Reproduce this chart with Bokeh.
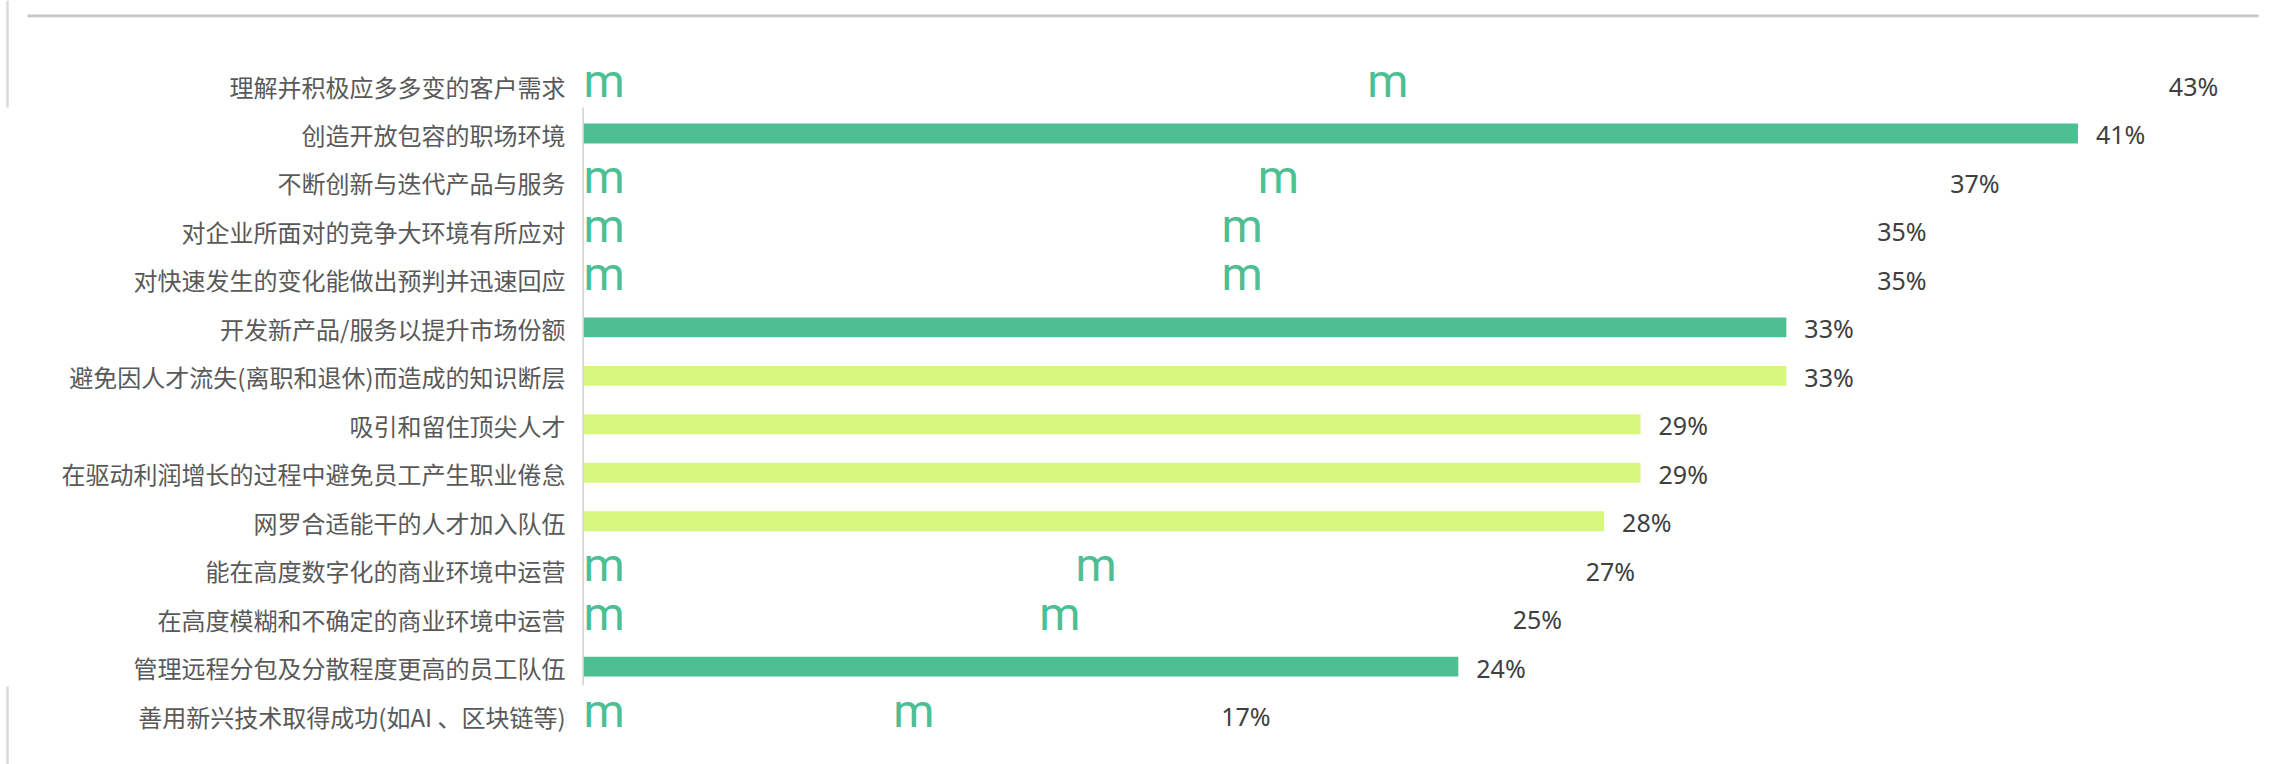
from bokeh.plotting import figure
from bokeh.models import ColumnDataSource, Range1d
from bokeh.core.properties import value
from bokeh.embed import file_html
from bokeh.resources import INLINE

# ---------------- data ----------------
categories = [
    "理解并积极应多多变的客户需求",
    "创造开放包容的职场环境",
    "不断创新与迭代产品与服务",
    "对企业所面对的竞争大环境有所应对",
    "对快速发生的变化能做出预判并迅速回应",
    "开发新产品/服务以提升市场份额",
    "避免因人才流失(离职和退休)而造成的知识断层",
    "吸引和留住顶尖人才",
    "在驱动利润增长的过程中避免员工产生职业倦怠",
    "网罗合适能干的人才加入队伍",
    "能在高度数字化的商业环境中运营",
    "在高度模糊和不确定的商业环境中运营",
    "管理远程分包及分散程度更高的员工队伍",
    "善用新兴技术取得成功(如AI 、区块链等)",
]
values = [43, 41, 37, 35, 35, 33, 33, 29, 29, 28, 27, 25, 24, 17]
groups = ["icon", "dark", "icon", "icon", "icon", "dark", "light",
          "light", "light", "light", "icon", "icon", "dark", "icon"]
labels = [f"{v}%" for v in values]

# ---------------- layout / style ----------------
DARK = "#4dbf93"
LIGHT = "#d8f77f"
n = len(categories)
ypos = [n - 1 - i for i in range(n)]

W, H = 2284, 764
ZERO_X = 583            # page x of value 0
PX_PER = 36.45          # pixels per percent
ROW_STEP = 48.47        # pixels per row
ROW0 = 84.5             # page y of first row centre

x_start = -ZERO_X / PX_PER
x_end = x_start + W / PX_PER
y_top = (n - 1) + ROW0 / ROW_STEP
y_bot = y_top - H / ROW_STEP


def px_x(px):
    return x_start + px / PX_PER


def px_y(py):
    return y_top - py / ROW_STEP


p = figure(width=W, height=H, output_backend="svg", toolbar_location=None,
           x_range=Range1d(x_start, x_end), y_range=Range1d(y_bot, y_top),
           x_axis_location=None, y_axis_location=None,
           min_border_left=0, min_border_right=0,
           min_border_top=0, min_border_bottom=0)
p.outline_line_color = None
p.grid.visible = False
p.background_fill_color = "white"
p.border_fill_color = "white"

# category labels
cat_src = ColumnDataSource(dict(x=[0] * n, y=ypos, t=categories))
p.text(x="x", y="y", text="t", source=cat_src, text_color="#595959",
       text_font=value("Noto Sans CJK SC"), text_font_size="24px",
       text_align="right", text_baseline="middle", x_offset=-18, y_offset=1)

# bars
bar_idx = [i for i, g in enumerate(groups) if g != "icon"]
bars = ColumnDataSource(dict(
    y=[ypos[i] for i in bar_idx],
    v=[values[i] for i in bar_idx],
    c=[DARK if groups[i] == "dark" else LIGHT for i in bar_idx],
))
p.hbar(y="y", left=0, right="v", height=0.41, fill_color="c", line_color=None, source=bars)

# icon rows (rendered as "m" glyphs at the start and middle of the bar length)
icon_idx = [i for i, g in enumerate(groups) if g == "icon"]
icons = ColumnDataSource(dict(
    x=[0 for i in icon_idx] + [values[i] / 2 for i in icon_idx],
    y=[ypos[i] for i in icon_idx] * 2,
    t=["m"] * (2 * len(icon_idx)),
))
p.text(x="x", y="y", text="t", source=icons, text_color=DARK,
       text_font=value("Roboto"), text_font_size="47px",
       text_align="left", text_baseline="middle", y_offset=-5)

# value labels
lab = ColumnDataSource(dict(x=values, y=ypos, t=labels))
p.text(x="x", y="y", text="t", source=lab, text_color="#404040",
       text_font=value("Noto Sans"), text_font_size="25px",
       text_align="left", text_baseline="middle", x_offset=18, y_offset=1)

# vertical axis line
p.segment(x0=[px_x(582.6)], y0=[px_y(107)], x1=[px_x(582.6)], y1=[px_y(685)],
          line_color="#d0d0d0", line_width=1.5)

# decorative frame lines
p.segment(x0=[px_x(27)], y0=[px_y(15.3)], x1=[px_x(2258)], y1=[px_y(15.3)],
          line_color="#c6c6c6", line_width=2.7)
p.segment(x0=[px_x(7), px_x(7)], y0=[px_y(0), px_y(686)],
          x1=[px_x(7), px_x(7)], y1=[px_y(107), px_y(764)],
          line_color="#dadada", line_width=2.5)

open("out.html", "w").write(file_html(p, INLINE))
